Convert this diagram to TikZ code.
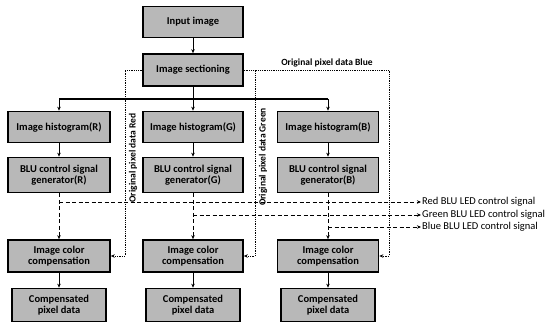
\documentclass[tikz,border=0pt]{standalone}
\usepackage{fontspec}
\setmainfont{Carlito}
\usetikzlibrary{arrows.meta}

\begin{document}
\begin{tikzpicture}[x=1pt,y=-1pt,>={Stealth[length=4pt,width=3.5pt]},
    blockbox/.style={rectangle,draw,line width=1.7pt,fill=black!28,align=center,
      inner sep=1pt,font=\bfseries\fontsize{10.5}{11.5}\selectfont},
    sidelabel/.style={anchor=west,inner sep=1pt,font=\fontsize{10.5}{11}\selectfont},
    datalabel/.style={inner sep=1pt,font=\bfseries\fontsize{9.5}{10}\selectfont},
    ledline/.style={line width=0.9pt,dash pattern=on 4pt off 2.5pt,->},
    rawline/.style={line width=0.8pt,densely dotted,->}]
  \useasboundingbox (0,0) rectangle (555,327);

  \begin{scope}[every node/.style={blockbox}]
    \node[minimum width=100pt,minimum height=31pt] (in)  at (193,22)  {Input image};
    \node[minimum width=100pt,minimum height=32pt] (sec) at (193,70)  {Image sectioning};
    \node[minimum width=102pt,minimum height=31pt] (hr)  at (59,127)  {Image histogram(R)};
    \node[minimum width=100pt,minimum height=31pt] (hg)  at (193,127) {Image histogram(G)};
    \node[minimum width=101pt,minimum height=31pt] (hb)  at (328,127) {Image histogram(B)};
    \node[minimum width=102pt,minimum height=35pt] (gr)  at (59,175)  {BLU control signal\\generator(R)};
    \node[minimum width=100pt,minimum height=35pt] (gg)  at (193,175) {BLU control signal\\generator(G)};
    \node[minimum width=101pt,minimum height=35pt] (gb)  at (328,175) {BLU control signal\\generator(B)};
    \node[minimum width=102pt,minimum height=32pt] (cr)  at (59,256)  {Image color\\compensation};
    \node[minimum width=100pt,minimum height=32pt] (cg)  at (193,256) {Image color\\compensation};
    \node[minimum width=101pt,minimum height=32pt] (cb)  at (328,256) {Image color\\compensation};
    \node[minimum width=94pt,minimum height=33pt]  (pr)  at (59,305)  {Compensated\\pixel data};
    \node[minimum width=94pt,minimum height=33pt]  (pg)  at (193,305) {Compensated\\pixel data};
    \node[minimum width=94pt,minimum height=33pt]  (pb)  at (328,305) {Compensated\\pixel data};
  \end{scope}

  \coordinate (busr) at (59,99);
  \coordinate (busb) at (328,99);
  \coordinate (tapr) at (59,202);
  \coordinate (tapg) at (193,215);
  \coordinate (tapb) at (328,227);
  \coordinate (rdot) at (125,256);
  \coordinate (gdot) at (255,256);
  \coordinate (bdot) at (389,256);

  \node[sidelabel] (lred)   at (421,202) {Red BLU LED control signal};
  \node[sidelabel] (lgreen) at (421,215) {Green BLU LED control signal};
  \node[sidelabel] (lblue)  at (421,227) {Blue BLU LED control signal};

  \node[datalabel]            (dblue)  at (327,63)  {Original pixel data Blue};
  \node[datalabel,rotate=90]  (dred)   at (133,158) {Original pixel data Red};
  \node[datalabel,rotate=90]  (dgreen) at (263,157) {Original pixel data Green};

  % main flow
  \begin{scope}[line width=0.9pt]
    \draw[->] (in) -- (sec);
    \draw[->] (sec) -- (hg);
    \draw[line width=1.8pt] (busr) -- (busb);
    \draw[->] (busr) -- (hr);
    \draw[->] (busb) -- (hb);
    \draw[->] (hr) -- (gr);
    \draw[->] (hg) -- (gg);
    \draw[->] (hb) -- (gb);
    \draw[->] (cr) -- (pr);
    \draw[->] (cg) -- (pg);
    \draw[->] (cb) -- (pb);
  \end{scope}

  % BLU LED control signals
  \draw[ledline] (gr) -- (cr);
  \draw[ledline] (gg) -- (cg);
  \draw[ledline] (gb) -- (cb);
  \draw[ledline] (tapr) -- (lred.west);
  \draw[ledline] (tapg) -- (lgreen.west);
  \draw[ledline] (tapb) -- (lblue.west);

  % original pixel data
  \draw[rawline] (sec.west) -| (rdot) -- (cr.east);
  \draw[rawline] (sec.east) -| (gdot) -- (cg.east);
  \draw[rawline] (sec.east) -| (bdot) -- (cb.east);

\end{tikzpicture}
\end{document}
